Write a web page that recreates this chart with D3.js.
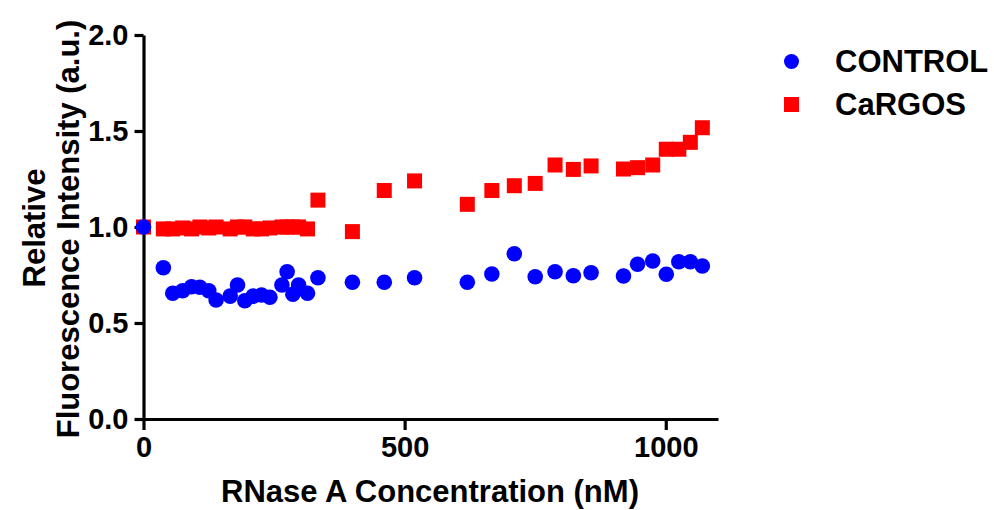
<!DOCTYPE html>
<html>
<head>
<meta charset="utf-8">
<script src="https://cdn.jsdelivr.net/npm/d3@7/dist/d3.min.js"></script>
<style>
  body { margin: 0; background: white; }
  text { font-family: 'Liberation Sans', Arial, sans-serif; font-weight: bold; }
</style>
</head>
<body>
<div id="chart"></div>
<script>
// RNase A concentration (nM) for each point
const controlX = [0, 38, 56, 75, 92, 108, 125, 139, 166, 180, 194, 210, 226, 242, 265, 275, 286, 297, 314, 334,
  400, 461, 519, 620, 667, 710, 750, 788, 823, 857, 919, 946, 975, 1001, 1025, 1047, 1070]
const controlY = [1.0, 0.788, 0.655, 0.668, 0.689, 0.686, 0.668, 0.62, 0.64, 0.698, 0.616, 0.64, 0.646, 0.634, 0.698, 0.767, 0.65, 0.698, 0.655, 0.736,
  0.712, 0.712, 0.736, 0.712, 0.755, 0.861, 0.741, 0.767, 0.746, 0.762, 0.745, 0.806, 0.823, 0.754, 0.819, 0.819, 0.797]

const cargosX = [0, 38, 56, 75, 92, 108, 125, 139, 166, 180, 194, 210, 226, 242, 265, 275, 286, 297, 314, 334,
  400, 461, 519, 620, 667, 710, 750, 788, 823, 857, 919, 946, 975, 1001, 1025, 1047, 1070]
const cargosY = [1.0, 0.99, 0.99, 0.995, 0.99, 1.0, 0.995, 1.0, 0.99, 1.0, 1.0, 0.99, 0.99, 0.995, 1.0, 1.0, 1.0, 1.0, 0.99, 1.14,
  0.976, 1.19, 1.24, 1.118, 1.19, 1.215, 1.227, 1.323, 1.30, 1.318, 1.302, 1.309, 1.323, 1.405, 1.405, 1.441, 1.517]

const xTicks = [0, 500, 1000]
const yTicks = [0, 0.5, 1.0, 1.5, 2.0]
const seriesNames = ['CONTROL', 'CaRGOS']

const controlColor = '#0000ff'
const cargosColor = '#ff0000'

const width = 994
const height = 510

const svg = d3.select('#chart').append('svg')
  .attr('width', width)
  .attr('height', height)

const x = d3.scaleLinear().domain([0, 1100]).range([143.5, 718])
const y = d3.scaleLinear().domain([0, 2]).range([419, 35])

// axes
const xAxis = svg.append('g')
  .attr('transform', 'translate(0,' + y(0) + ')')
  .call(d3.axisBottom(x).tickValues(xTicks).tickSize(11).tickSizeOuter(0).tickPadding(6).tickFormat(d3.format('d')))
const yAxis = svg.append('g')
  .attr('transform', 'translate(' + x(0) + ',0)')
  .call(d3.axisLeft(y).tickValues(yTicks).tickSize(9).tickSizeOuter(0).tickPadding(6).tickFormat(d3.format('.1f')))

;[xAxis, yAxis].forEach(g => {
  g.select('.domain').attr('stroke', 'black').attr('stroke-width', 3.2)
  g.selectAll('.tick line').attr('stroke', 'black').attr('stroke-width', 3.2)
  g.selectAll('.tick text').attr('fill', 'black').style('font-size', '29px')
})

// axis titles
svg.append('text')
  .attr('x', 430)
  .attr('y', 502)
  .attr('text-anchor', 'middle')
  .style('font-size', '31px')
  .text('RNase A Concentration (nM)')

svg.append('text')
  .attr('transform', 'translate(45,228) rotate(-90)')
  .attr('text-anchor', 'middle')
  .style('font-size', '31px')
  .text('Relative')

svg.append('text')
  .attr('transform', 'translate(79,229) rotate(-90)')
  .attr('text-anchor', 'middle')
  .style('font-size', '31px')
  .text('Fluorescence Intensity (a.u.)')

// points: squares first, circles on top
const controlPts = controlX.map((d, i) => ({x: d, y: controlY[i]}))
const cargosPts = cargosX.map((d, i) => ({x: d, y: cargosY[i]}))
const sq = 15

svg.append('g').selectAll('rect')
  .data(cargosPts).enter().append('rect')
  .attr('x', d => x(d.x) - sq / 2)
  .attr('y', d => y(d.y) - sq / 2)
  .attr('width', sq)
  .attr('height', sq)
  .attr('fill', cargosColor)

svg.append('g').selectAll('circle')
  .data(controlPts).enter().append('circle')
  .attr('cx', d => x(d.x))
  .attr('cy', d => y(d.y))
  .attr('r', 7.8)
  .attr('fill', controlColor)

// legend
const legend = svg.append('g')
legend.append('circle')
  .attr('cx', 791.5).attr('cy', 61.5).attr('r', 7.5)
  .attr('fill', controlColor)
legend.append('rect')
  .attr('x', 784).attr('y', 97).attr('width', 15).attr('height', 15)
  .attr('fill', cargosColor)
legend.selectAll('text.lg')
  .data(seriesNames).enter().append('text')
  .attr('class', 'lg')
  .attr('x', 835)
  .attr('y', (d, i) => 61 + i * 43)
  .attr('dy', '0.36em')
  .style('font-size', '31px')
  .text(d => d)
</script>
</body>
</html>
